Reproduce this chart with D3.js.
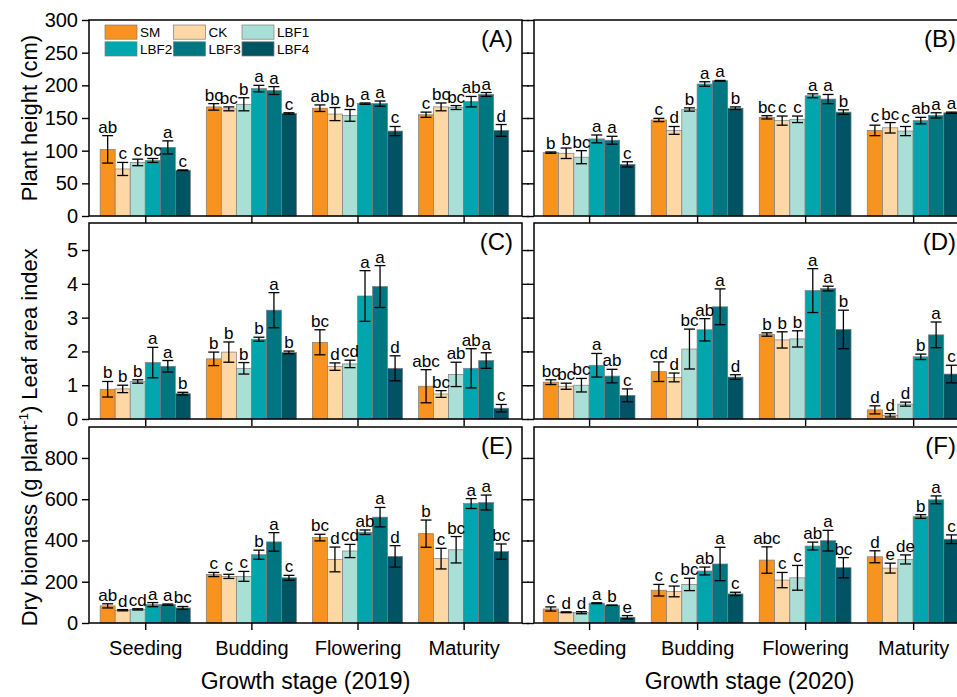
<!DOCTYPE html>
<meta charset="utf-8">
<html>
<head>
<title>Growth stage panels</title>
<style>
body { margin: 0; background: #fff; }
text { font-family: "Liberation Sans", Arial, sans-serif; fill: #000; }
</style>
</head>
<body>
<svg id="chart" width="957" height="697"></svg>
<script src="https://cdn.jsdelivr.net/npm/d3@7"></script>
<script>
// categories
var stages = ["Seeding", "Budding", "Flowering", "Maturity"];
var treatments = ["SM", "CK", "LBF1", "LBF2", "LBF3", "LBF4"];

// (A) plant height 2019, one row per stage, one value per treatment
var heightA = [[102, 72, 82, 85, 105, 70], [167, 164, 171, 195, 192, 157], [165, 156, 154, 172, 172, 130], [155, 167, 166, 175, 186, 131]];
var heightAErr = [[21, 10, 5, 3, 10, 0.5], [5, 3, 10, 5, 6, 1], [5, 10, 9, 1, 4, 7], [4, 6, 3, 8, 3, 9]];
var heightASig = [["ab", "c", "c", "bc", "a", "c"], ["bc", "bc", "b", "a", "a", "c"], ["ab", "b", "b", "a", "a", "c"], ["c", "bc", "bc", "ab", "a", "d"]];

// (B) plant height 2020
var heightB = [[97, 96, 90, 118, 116, 79], [147, 131, 163, 202, 207, 165], [151, 146, 148, 184, 179, 159], [131, 135, 130, 146, 154, 158]];
var heightBErr = [[1, 8, 10, 6, 6, 4], [2.5, 6, 2.5, 3.5, 0.5, 2], [2.5, 7, 5, 3, 7, 3.5], [8, 8, 7, 5, 4, 1]];
var heightBSig = [["b", "b", "bc", "a", "a", "c"], ["c", "d", "b", "a", "a", "b"], ["bc", "c", "c", "a", "a", "b"], ["c", "bc", "c", "ab", "a", "a"]];

// (C) leaf area index 2019
var laiC = [[0.88, 0.89, 1.11, 1.67, 1.56, 0.75], [1.78, 1.98, 1.5, 2.36, 3.22, 1.97], [2.27, 1.55, 1.63, 3.64, 3.92, 1.5], [0.97, 0.74, 1.32, 1.5, 1.73, 0.32]];
var laiCErr = [[0.23, 0.11, 0.05, 0.45, 0.17, 0.04], [0.2, 0.3, 0.17, 0.06, 0.52, 0.04], [0.37, 0.11, 0.11, 0.75, 0.62, 0.37], [0.49, 0.1, 0.36, 0.58, 0.23, 0.11]];
var laiCSig = [["b", "b", "b", "a", "a", "b"], ["b", "b", "b", "b", "a", "b"], ["bc", "d", "cd", "a", "a", "d"], ["abc", "bc", "ab", "ab", "a", "c"]];

// (D) leaf area index 2020
var laiD = [[1.09, 0.97, 1.0, 1.59, 1.27, 0.7], [1.4, 1.23, 2.07, 2.64, 3.32, 1.24], [2.5, 2.34, 2.37, 3.8, 3.86, 2.65], [0.27, 0.11, 0.44, 1.84, 2.49, 1.33]];
var laiDErr = [[0.07, 0.09, 0.2, 0.35, 0.2, 0.19], [0.29, 0.13, 0.59, 0.33, 0.53, 0.07], [0.05, 0.24, 0.24, 0.65, 0.07, 0.57], [0.12, 0.05, 0.06, 0.08, 0.38, 0.26]];
var laiDSig = [["bc", "bc", "bc", "a", "ab", "c"], ["cd", "d", "bc", "ab", "a", "d"], ["b", "b", "b", "a", "a", "b"], ["d", "d", "d", "b", "a", "c"]];

// (E) dry biomass 2019
var massE = [[83, 62, 66, 89, 89, 73], [235, 226, 226, 331, 393, 219], [414, 308, 349, 440, 513, 323], [433, 312, 355, 579, 584, 346]];
var massEErr = [[10, 3, 3, 10, 3, 7], [10, 10, 24, 22, 45, 12], [16, 60, 32, 11, 47, 52], [66, 50, 64, 24, 36, 37]];
var massESig = [["ab", "d", "cd", "a", "a", "bc"], ["c", "c", "c", "b", "a", "c"], ["bc", "d", "cd", "ab", "a", "d"], ["b", "c", "bc", "a", "a", "bc"]];

// (F) dry biomass 2020
var massF = [[68, 52, 50, 96, 86, 28], [159, 153, 187, 252, 286, 141], [305, 208, 219, 373, 399, 268], [321, 266, 308, 516, 597, 406]];
var massFErr = [[10, 2, 5, 2, 1, 8], [28, 26, 30, 19, 81, 8], [64, 37, 60, 19, 50, 49], [29, 24, 22, 9, 19, 21]];
var massFSig = [["c", "d", "d", "a", "b", "e"], ["c", "c", "bc", "ab", "a", "c"], ["abc", "c", "c", "ab", "a", "bc"], ["d", "e", "de", "b", "a", "c"]];

// y ticks
var heightTicks = [0, 50, 100, 150, 200, 250, 300];
var laiTicks = [0, 1, 2, 3, 4, 5];
var massTicks = [0, 200, 400, 600, 800];

var colors = ["#F7931E", "#FDD8A6", "#A9DFD6", "#00A5AD", "#007680", "#005363"];

var svg = d3.select("#chart");

var cols = [
  {left: 89, right: 522, domain: [0.47, 4.55], title: "Growth stage (2019)"},
  {left: 534, right: 965, domain: [0.49, 4.48], title: "Growth stage (2020)"}
];
var rows = [
  {top: 20, bottom: 216, max: 300, ticks: heightTicks, title: "Plant height (cm)"},
  {top: 223, bottom: 419, max: 5.8, ticks: laiTicks, title: "Leaf area index"},
  {top: 427, bottom: 623, max: 950, ticks: massTicks, title: "Dry biomass (g plant"}
];

var panels = [
  {row: 0, col: 0, label: "(A)", v: heightA, e: heightAErr, s: heightASig},
  {row: 0, col: 1, label: "(B)", v: heightB, e: heightBErr, s: heightBSig},
  {row: 1, col: 0, label: "(C)", v: laiC, e: laiCErr, s: laiCSig},
  {row: 1, col: 1, label: "(D)", v: laiD, e: laiDErr, s: laiDSig},
  {row: 2, col: 0, label: "(E)", v: massE, e: massEErr, s: massESig},
  {row: 2, col: 1, label: "(F)", v: massF, e: massFErr, s: massFSig}
];

panels.forEach(function(p) {
  var c = cols[p.col], r = rows[p.row];
  var x = d3.scaleLinear().domain(c.domain).range([c.left, c.right]);
  var y = d3.scaleLinear().domain([0, r.max]).range([r.bottom, r.top]);
  var groupW = (x(2) - x(1)) * 0.85;
  var inner = d3.scaleBand().domain(treatments).range([-groupW / 2, groupW / 2]);
  var bw = inner.bandwidth();

  var g = svg.append("g");

  // flatten rows into bar records
  var bars = [];
  p.v.forEach(function(row, si) {
    row.forEach(function(val, ti) {
      bars.push({stage: si + 1, t: ti, v: val, e: p.e[si][ti], s: p.s[si][ti]});
    });
  });

  g.selectAll("rect.bar").data(bars).enter().append("rect")
    .attr("class", "bar")
    .attr("x", function(d) { return x(d.stage) + inner(treatments[d.t]); })
    .attr("y", function(d) { return y(d.v); })
    .attr("width", bw)
    .attr("height", function(d) { return y(0) - y(d.v); })
    .attr("fill", function(d) { return colors[d.t]; })
    .attr("stroke", "#7d7d7d")
    .attr("stroke-width", 0.7);

  var eb = g.selectAll("g.err").data(bars).enter().append("g")
    .attr("class", "err")
    .attr("stroke", "#000")
    .attr("stroke-width", 1.3);
  var cx = function(d) { return x(d.stage) + inner(treatments[d.t]) + bw / 2; };
  eb.append("line")
    .attr("x1", cx).attr("x2", cx)
    .attr("y1", function(d) { return y(d.v + d.e); })
    .attr("y2", function(d) { return y(d.v - d.e); });
  eb.append("line")
    .attr("x1", function(d) { return cx(d) - 5.5; }).attr("x2", function(d) { return cx(d) + 5.5; })
    .attr("y1", function(d) { return y(d.v + d.e); }).attr("y2", function(d) { return y(d.v + d.e); });
  eb.append("line")
    .attr("x1", function(d) { return cx(d) - 5.5; }).attr("x2", function(d) { return cx(d) + 5.5; })
    .attr("y1", function(d) { return y(d.v - d.e); }).attr("y2", function(d) { return y(d.v - d.e); });

  g.selectAll("text.sig").data(bars).enter().append("text")
    .attr("class", "sig")
    .attr("x", cx)
    .attr("y", function(d) { return y(d.v + d.e) - 3; })
    .attr("text-anchor", "middle")
    .style("font-size", "17px")
    .text(function(d) { return d.s; });

  // axes (ticks point outward, frame drawn separately)
  var left = svg.append("g").attr("transform", "translate(" + c.left + ",0)")
    .call(d3.axisLeft(y).tickValues(r.ticks).tickSize(7).tickPadding(4)
      .tickFormat(p.col == 0 ? d3.format("d") : function() { return ""; }));
  var right = svg.append("g").attr("transform", "translate(" + c.right + ",0)")
    .call(d3.axisRight(y).tickValues(r.ticks).tickSize(7).tickFormat(function() { return ""; }));
  var bottom = svg.append("g").attr("transform", "translate(0," + r.bottom + ")")
    .call(d3.axisBottom(x).tickValues([1, 2, 3, 4]).tickSize(7).tickPadding(11)
      .tickFormat(function(d) { return p.row == 2 ? stages[d - 1] : ""; }));
  [left, right, bottom].forEach(function(a) {
    a.select(".domain").remove();
    a.selectAll(".tick line").attr("stroke", "#000").attr("stroke-width", 1.4);
    a.selectAll(".tick text").style("font-size", "20px")
      .style("font-family", "'Liberation Sans', Arial, sans-serif");
  });

  svg.append("rect")
    .attr("x", c.left).attr("y", r.top)
    .attr("width", c.right - c.left).attr("height", r.bottom - r.top)
    .attr("fill", "none").attr("stroke", "#000").attr("stroke-width", 1.5);

  svg.append("text")
    .attr("x", c.right - 9).attr("y", r.top + 27)
    .attr("text-anchor", "end")
    .style("font-size", "24px")
    .text(p.label);
});

// y titles
var yCenters = [118, 324, 516];
rows.forEach(function(r, i) {
  var t = svg.append("text")
    .attr("transform", "translate(37," + yCenters[i] + ") rotate(-90)")
    .attr("text-anchor", "middle")
    .style("font-size", "22px")
    .text(r.title);
  if (i == 2) {
    t.append("tspan").attr("dy", -9).style("font-size", "13px").text("-1");
    t.append("tspan").attr("dy", 9).text(")");
  }
});

// x titles
cols.forEach(function(c) {
  svg.append("text")
    .attr("x", (c.left + Math.min(c.right, 970)) / 2)
    .attr("y", 689)
    .attr("text-anchor", "middle")
    .style("font-size", "23px")
    .text(c.title);
});

// legend inside panel A
var legend = svg.append("g").attr("transform", "translate(105,25)");
var lg = legend.selectAll("g").data(treatments).enter().append("g")
  .attr("transform", function(d, i) { return "translate(" + (i % 3) * 68.5 + "," + Math.floor(i / 3) * 16.8 + ")"; });
lg.append("rect")
  .attr("width", 32).attr("height", 14.2)
  .attr("fill", function(d, i) { return colors[i]; })
  .attr("stroke", "#7d7d7d").attr("stroke-width", 0.7);
lg.append("text")
  .attr("x", 35).attr("y", 12)
  .style("font-size", "13.5px")
  .text(function(d) { return d; });
</script>
</body>
</html>
